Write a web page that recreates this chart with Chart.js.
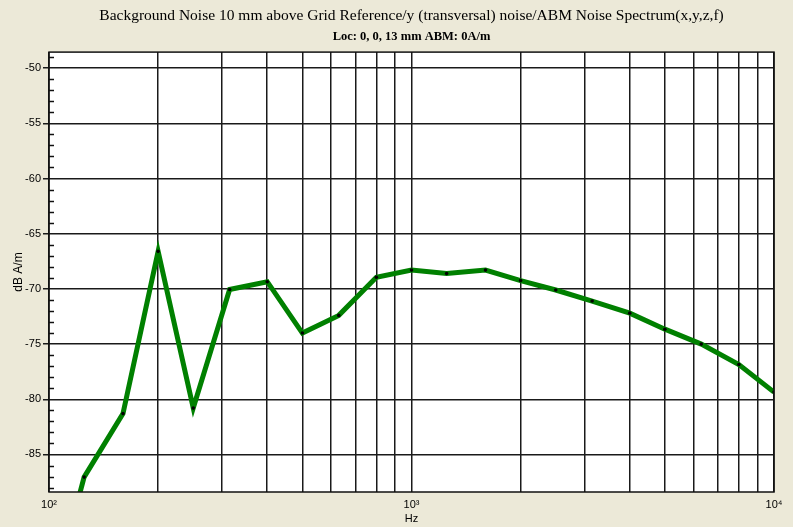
<!DOCTYPE html>
<html>
<head>
<meta charset="utf-8">
<script src="https://cdn.jsdelivr.net/npm/chart.js@4.4.1/dist/chart.umd.min.js"></script>
<style>
  html, body { margin: 0; padding: 0; background: #ECE9D8; }
  #wrap { width: 793px; height: 527px; position: relative; }
</style>
</head>
<body>
<div id="wrap"><canvas id="noise"></canvas></div>
<script>
(function () {
  'use strict';

  // 1/3 octave band centres, Hz
  var freqs = [100, 125, 160, 200, 250, 315, 400, 500, 630, 800, 1000,
    1250, 1600, 2000, 2500, 3150, 4000, 5000, 6300, 8000, 10000];
  // noise level, dB A/m
  var levels = [-99.0, -87.05, -81.3, -66.6, -80.8, -70.05, -69.35, -74.0, -72.4, -68.95, -68.3,
    -68.6, -68.3, -69.25, -70.1, -71.1, -72.2, -73.65, -75.0, -76.85, -79.35];

  var xGrid = [100, 200, 300, 400, 500, 600, 700, 800, 900,
    1000, 2000, 3000, 4000, 5000, 6000, 7000, 8000, 9000, 10000];
  var xLabels = { 100: '10\u00b2', 1000: '10\u00b3', 10000: '10\u2074' };
  var yMajor = [-85, -80, -75, -70, -65, -60, -55, -50];
  var yMinor = [-88, -87, -86, -84, -83, -82, -81, -79, -78, -77, -76, -74, -73, -72, -71,
    -69, -68, -67, -66, -64, -63, -62, -61, -59, -58, -57, -56, -54, -53, -52, -51, -49];

  var sans = '"Liberation Sans", Arial, sans-serif';
  var serif = '"Liberation Serif", "Times New Roman", serif';

  var plotBox = {
    id: 'plotBox',
    beforeDraw: function (chart) {
      var a = chart.chartArea, ctx = chart.ctx;
      ctx.save();
      ctx.fillStyle = '#ffffff';
      ctx.fillRect(a.left, a.top, a.right - a.left, a.bottom - a.top);
      ctx.restore();
    },
    afterDatasetsDraw: function (chart) {
      var a = chart.chartArea, ctx = chart.ctx, y = chart.scales.y;
      ctx.save();
      ctx.strokeStyle = '#111';
      ctx.lineWidth = 1.5;
      yMinor.forEach(function (v) {
        var py = Math.round(y.getPixelForValue(v)) + 0.5;
        ctx.beginPath();
        ctx.moveTo(a.left, py);
        ctx.lineTo(a.left + 5, py);
        ctx.stroke();
      });
      ctx.strokeRect(a.left, a.top, a.right - a.left, a.bottom - a.top);
      ctx.restore();
    }
  };

  new Chart(document.getElementById('noise').getContext('2d'), {
    type: 'line',
    data: {
      datasets: [{
        data: freqs.map(function (f, i) { return { x: f, y: levels[i] }; }),
        borderColor: '#008000',
        borderWidth: 5,
        pointRadius: 1.8,
        pointBackgroundColor: '#000',
        pointBorderColor: '#000',
        pointBorderWidth: 0,
        tension: 0,
        clip: 0
      }]
    },
    options: {
      responsive: true,
      maintainAspectRatio: false,
      animation: false,
      layout: { padding: { left: 0, right: 19, top: 0, bottom: 0 } },
      plugins: {
        legend: { display: false },
        tooltip: { enabled: false },
        title: {
          display: true,
          fullSize: false,
          text: 'Background Noise 10 mm above Grid Reference/y (transversal) noise/ABM Noise Spectrum(x,y,z,f)',
          color: '#000',
          font: { family: serif, size: 15.5, weight: 'normal', lineHeight: 1.2 },
          padding: { top: 7, bottom: 1 }
        },
        subtitle: {
          display: true,
          fullSize: false,
          text: 'Loc: 0, 0, 13 mm ABM: 0A/m',
          color: '#000',
          font: { family: serif, size: 12.5, weight: 'bold', lineHeight: 1.2 },
          padding: { top: 3, bottom: 7.5 }
        }
      },
      scales: {
        x: {
          type: 'logarithmic',
          min: 100,
          max: 10000,
          afterBuildTicks: function (s) {
            s.ticks = xGrid.map(function (v) { return { value: v }; });
          },
          afterFit: function (s) { s.height = 35; },
          ticks: {
            autoSkip: false,
            maxRotation: 0,
            padding: 6,
            color: '#000',
            font: { family: sans, size: 11 },
            callback: function (v) { return xLabels[v] || ''; }
          },
          grid: { color: '#1a1a1a', lineWidth: 1.5, drawTicks: false },
          border: { display: false },
          title: {
            display: true,
            text: 'Hz',
            color: '#000',
            font: { family: sans, size: 11 },
            padding: { top: 0, bottom: 1 }
          }
        },
        y: {
          type: 'linear',
          min: -88.4,
          max: -48.55,
          afterBuildTicks: function (s) {
            s.ticks = yMajor.map(function (v) { return { value: v }; });
          },
          afterFit: function (s) { s.width = 49; },
          ticks: {
            padding: 2,
            color: '#000',
            font: { family: sans, size: 11 },
            callback: function (v) { return String(v); }
          },
          grid: { color: '#1a1a1a', lineWidth: 1.5, tickLength: 6, tickColor: '#1a1a1a' },
          border: { display: false },
          title: {
            display: true,
            text: 'dB A/m',
            color: '#000',
            font: { family: sans, size: 12 },
            padding: 11
          }
        }
      }
    },
    plugins: [plotBox]
  });
})();
</script>
</body>
</html>
